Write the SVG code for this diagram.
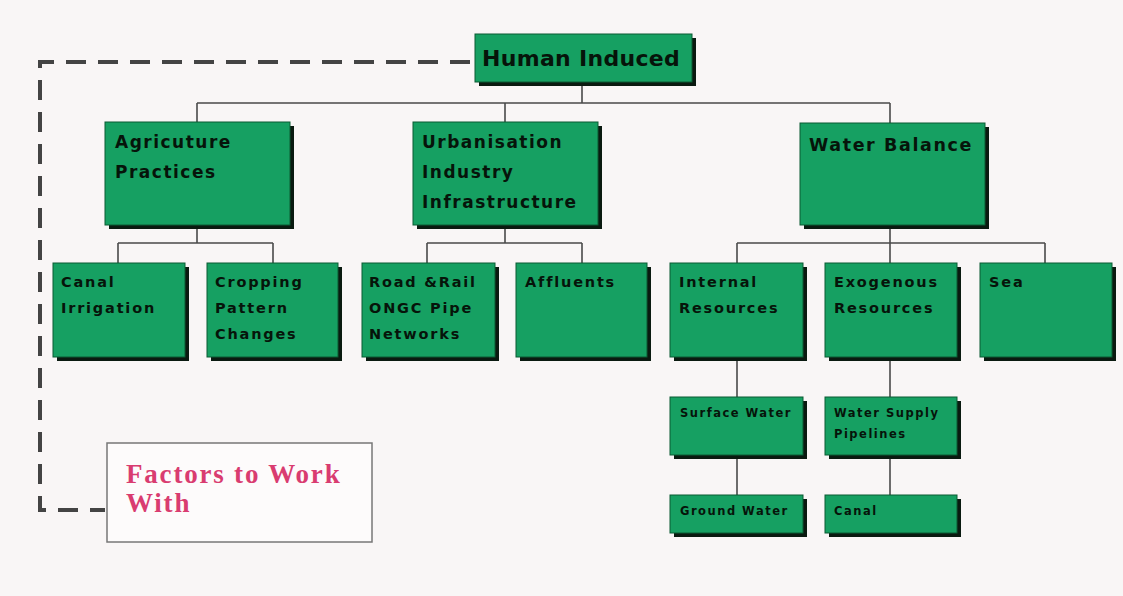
<svg xmlns="http://www.w3.org/2000/svg" width="1123" height="596" viewBox="0 0 1123 596">
<defs>
<style>
.box{fill:#16a062;stroke:#0b5a33;stroke-width:1}
.sh{fill:#0a1a10}
.t{font-family:"DejaVu Sans","Liberation Sans",Arial,sans-serif;font-weight:bold;fill:#06140a}
.t1{font-size:22px;letter-spacing:0.3px}
.t2{font-size:17px;letter-spacing:1.5px}
.t3{font-size:14.5px;letter-spacing:1.8px}
.t4{font-size:11.5px;letter-spacing:1.5px}
.l{stroke:#4a4a4a;stroke-width:1.6;fill:none}
.d{stroke:#444;stroke-width:4;fill:none;stroke-dasharray:20 12}
.f{font-family:"Liberation Serif","Times New Roman",serif;font-weight:bold;font-size:27px;letter-spacing:1.8px;fill:#d93c70}
</style>
</defs>
<rect width="1123" height="596" fill="#f9f6f6"/>
<g id="connectors">
<path class="l" d="M582 82V103M197 103H890M197 103V122M505 103V122M890 103V123"/>
<path class="l" d="M197 225V243M118 243H273M118 243V263M273 243V263"/>
<path class="l" d="M505 225V243M427 243H582M427 243V263M582 243V263"/>
<path class="l" d="M890 225V243M737 243H1045M737 243V263M890 243V263M1045 243V263"/>
<path class="l" d="M737 357V397M737 455V495M890 357V397M890 455V495"/>
<path class="d" d="M470 62H40V510H105"/>
</g>
<g id="human-induced"><rect class="sh" x="479" y="38" width="217" height="48"/><rect class="box" x="475" y="34" width="217" height="48"/><text class="t t1" x="482" y="66">Human Induced</text></g>
<g id="agriculture"><rect class="sh" x="109" y="126" width="185" height="103"/><rect class="box" x="105" y="122" width="185" height="103"/><text class="t t2" x="115" y="148">Agricuture</text><text class="t t2" x="115" y="178">Practices</text></g>
<g id="urbanisation"><rect class="sh" x="417" y="126" width="185" height="103"/><rect class="box" x="413" y="122" width="185" height="103"/><text class="t t2" x="422" y="148">Urbanisation</text><text class="t t2" x="422" y="178">Industry</text><text class="t t2" x="422" y="208">Infrastructure</text></g>
<g id="water-balance"><rect class="sh" x="804" y="127" width="185" height="102"/><rect class="box" x="800" y="123" width="185" height="102"/><text class="t t2" x="809" y="151" style="font-size:17.5px;letter-spacing:1.6px">Water Balance</text></g>
<g id="canal-irrigation"><rect class="sh" x="57" y="267" width="132" height="94"/><rect class="box" x="53" y="263" width="132" height="94"/><text class="t t3" x="61" y="287">Canal</text><text class="t t3" x="61" y="313">Irrigation</text></g>
<g id="cropping"><rect class="sh" x="211" y="267" width="131" height="94"/><rect class="box" x="207" y="263" width="131" height="94"/><text class="t t3" x="215" y="287">Cropping</text><text class="t t3" x="215" y="313">Pattern</text><text class="t t3" x="215" y="339">Changes</text></g>
<g id="road-rail"><rect class="sh" x="366" y="267" width="133" height="94"/><rect class="box" x="362" y="263" width="133" height="94"/><text class="t t3" x="369" y="287">Road &amp;Rail</text><text class="t t3" x="369" y="313">ONGC Pipe</text><text class="t t3" x="369" y="339">Networks</text></g>
<g id="affluents"><rect class="sh" x="520" y="267" width="131" height="94"/><rect class="box" x="516" y="263" width="131" height="94"/><text class="t t3" x="525" y="287">Affluents</text></g>
<g id="internal"><rect class="sh" x="674" y="267" width="133" height="94"/><rect class="box" x="670" y="263" width="133" height="94"/><text class="t t3" x="679" y="287">Internal</text><text class="t t3" x="679" y="313">Resources</text></g>
<g id="exogenous"><rect class="sh" x="829" y="267" width="132" height="94"/><rect class="box" x="825" y="263" width="132" height="94"/><text class="t t3" x="834" y="287">Exogenous</text><text class="t t3" x="834" y="313">Resources</text></g>
<g id="sea"><rect class="sh" x="984" y="267" width="132" height="94"/><rect class="box" x="980" y="263" width="132" height="94"/><text class="t t3" x="989" y="287">Sea</text></g>
<g id="surface-water"><rect class="sh" x="674" y="401" width="133" height="58"/><rect class="box" x="670" y="397" width="133" height="58"/><text class="t t4" x="680" y="417">Surface Water</text></g>
<g id="water-supply"><rect class="sh" x="829" y="401" width="132" height="58"/><rect class="box" x="825" y="397" width="132" height="58"/><text class="t t4" x="834" y="417">Water Supply</text><text class="t t4" x="834" y="438">Pipelines</text></g>
<g id="ground-water"><rect class="sh" x="674" y="499" width="133" height="38"/><rect class="box" x="670" y="495" width="133" height="38"/><text class="t t4" x="680" y="515">Ground Water</text></g>
<g id="canal"><rect class="sh" x="829" y="499" width="132" height="38"/><rect class="box" x="825" y="495" width="132" height="38"/><text class="t t4" x="834" y="515">Canal</text></g>
<g id="factors"><rect x="107" y="443" width="265" height="99" fill="#fdfbfb" stroke="#777" stroke-width="1.5"/><text class="f" x="126" y="483">Factors to Work</text><text class="f" x="126" y="512">With</text></g>
</svg>
